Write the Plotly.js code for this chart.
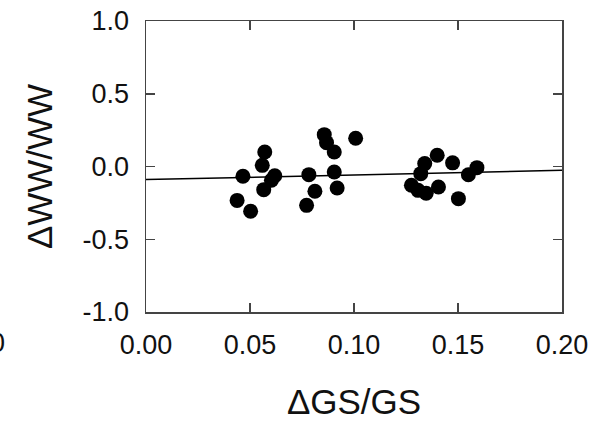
<!DOCTYPE html>
<html>
<head>
<meta charset="utf-8">
<script src="https://cdn.plot.ly/plotly-3.0.1.min.js"></script>
<style>html,body{margin:0;padding:0;background:#fff;}#chart{width:604px;height:428px;}</style>
</head>
<body>
<div id="chart"></div>
<script>
// Data
const gsRatio = [
  0.0466, 0.0571, 0.0559, 0.0619, 0.0603, 0.0566, 0.0438, 0.0503,
  0.0783, 0.0812, 0.0772, 0.0857, 0.0868, 0.0905, 0.1008, 0.0905, 0.0919,
  0.1400, 0.1340, 0.1474, 0.1321, 0.1276, 0.1308, 0.1347, 0.1406, 0.1591, 0.1550, 0.1502
];
const wwRatio = [
  -0.067, 0.100, 0.008, -0.064, -0.095, -0.159, -0.233, -0.308,
  -0.056, -0.170, -0.267, 0.219, 0.164, 0.100, 0.194, -0.038, -0.148,
  0.077, 0.020, 0.025, -0.049, -0.129, -0.164, -0.184, -0.141, -0.008, -0.057, -0.221
];
const fitX = [0, 0.2];
const fitY = [-0.090, -0.026];
const xTicks = [0, 0.05, 0.10, 0.15, 0.20];
const xTickText = ['0.00', '0.05', '0.10', '0.15', '0.20'];
const yTicks = [-1, -0.5, 0, 0.5, 1];
const yTickText = ['-1.0', '-0.5', '0.0', '0.5', '1.0'];

const FONT = '"Liberation Sans", Arial, sans-serif';

const traces = [
  {
    x: fitX, y: fitY, type: 'scatter', mode: 'lines',
    line: {color: '#000', width: 1.5}, hoverinfo: 'skip', showlegend: false
  },
  {
    x: gsRatio, y: wwRatio, type: 'scatter', mode: 'markers',
    marker: {color: '#000', size: 15, line: {width: 0}}, showlegend: false
  }
];

const axisCommon = {
  showline: true, linecolor: '#444', linewidth: 1.5, mirror: 'ticks',
  ticks: 'inside', ticklen: 9, tickwidth: 1.5, tickcolor: '#444',
  showgrid: false, zeroline: false,
  tickfont: {family: FONT, size: 27, color: '#111'}
};

const layout = {
  width: 604, height: 428,
  margin: {l: 146, r: 42, t: 21, b: 116},
  paper_bgcolor: '#fff', plot_bgcolor: '#fff',
  font: {family: FONT, color: '#111'},
  xaxis: Object.assign({}, axisCommon, {
    range: [0, 0.2], tickvals: xTicks, ticktext: xTickText,
    ticklabelstandoff: 8,
    title: {text: '\u0394GS/GS', font: {family: FONT, size: 35, color: '#111'}, standoff: 30}
  }),
  yaxis: Object.assign({}, axisCommon, {
    range: [-1, 1], tickvals: yTicks, ticktext: yTickText,
    ticklabelstandoff: 10,
    title: {text: '\u0394WW/WW', font: {family: FONT, size: 35, color: '#111'}, standoff: 19}
  }),
  annotations: [
    {text: '0', xref: 'paper', yref: 'paper', x: -146/416 + 7/416, y: -31/291,
     xanchor: 'right', yanchor: 'middle', showarrow: false,
     font: {family: FONT, size: 27, color: '#111'}}
  ]
};

Plotly.newPlot('chart', traces, layout, {displayModeBar: false, staticPlot: true});
</script>
</body>
</html>
